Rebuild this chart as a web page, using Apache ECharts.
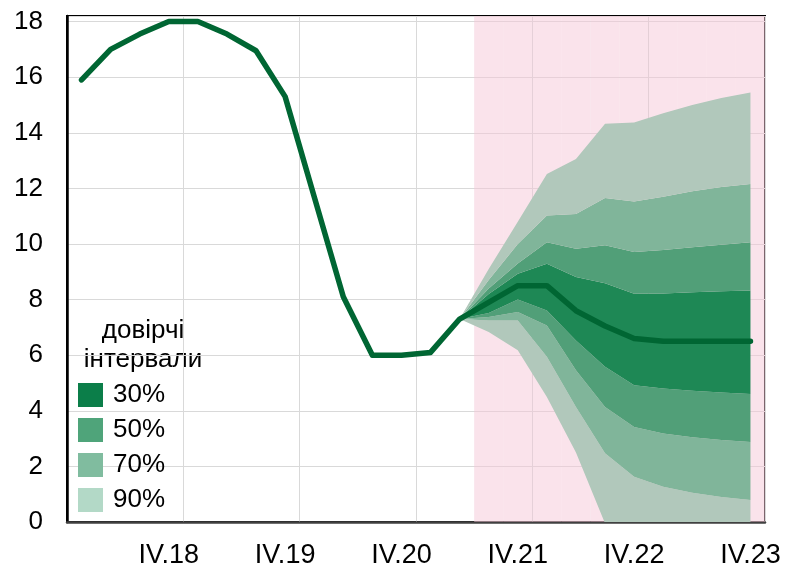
<!DOCTYPE html>
<html>
<head>
<meta charset="utf-8">
<script src="https://cdn.jsdelivr.net/npm/echarts@6/dist/echarts.min.js"></script>
<style>
  html, body { margin: 0; padding: 0; background: #fff; }
  #main { width: 787px; height: 570px; }
</style>
</head>
<body>
<div id="main"></div>
<script>
// квартали I.18 ... IV.23
const quarters = [
  'I.18', 'II.18', 'III.18', 'IV.18',
  'I.19', 'II.19', 'III.19', 'IV.19',
  'I.20', 'II.20', 'III.20', 'IV.20',
  'I.21', 'II.21', 'III.21', 'IV.21',
  'I.22', 'II.22', 'III.22', 'IV.22',
  'I.23', 'II.23', 'III.23', 'IV.23'
];

// фактичні дані (I.18 - II.21)
const actual = [15.9, 17.0, 17.55, 18.0, 18.0, 17.55, 16.95, 15.3, 11.7, 8.1, 6.0, 6.0, 6.1, 7.3];

// прогноз (II.21 - IV.23)
const forecastStart = 13;
const median = [7.3, 7.9, 8.5, 8.5, 7.6, 7.05, 6.6, 6.5, 6.5, 6.5, 6.5];
const hi30 = [7.3, 8.2, 8.93, 9.29, 8.81, 8.59, 8.21, 8.22, 8.26, 8.3, 8.33];
const hi50 = [7.3, 8.4, 9.3, 10.06, 9.83, 9.95, 9.71, 9.78, 9.88, 9.97, 10.06];
const hi70 = [7.3, 8.7, 10.0, 11.02, 11.08, 11.65, 11.53, 11.7, 11.9, 12.05, 12.16];
const hi90 = [7.3, 9.1, 10.8, 12.52, 13.06, 14.32, 14.37, 14.7, 15.0, 15.25, 15.45];
const lo30 = [7.3, 7.52, 8.0, 7.61, 6.53, 5.58, 4.92, 4.8, 4.72, 4.66, 4.6];
const lo50 = [7.3, 7.37, 7.55, 7.07, 5.46, 4.14, 3.42, 3.18, 3.05, 2.95, 2.88];
const lo70 = [7.3, 7.25, 7.25, 5.94, 4.14, 2.47, 1.63, 1.27, 1.05, 0.9, 0.79];
const lo90 = [7.3, 6.83, 6.18, 4.5, 2.5, -0.05, -1.0, -1.5, -1.8, -2.0, -2.2];

// прогнозний період (рожевий фон) з III.21
const shadeStart = 14;
const yMax = 18.2;

const bandColors = { '30%': '#1e8855', '50%': '#519f78', '70%': '#80b59a', '90%': '#b1c8bb' };
const legendColors = { '30%': '#0b7e49', '50%': '#4fa47a', '70%': '#80bc9f', '90%': '#b3d9c7' };

const font = "'Liberation Sans', Arial, sans-serif";

function pad(arr) {
  return Array(forecastStart).fill(null).concat(arr);
}
function diff(a, b) {
  return pad(a.map((v, i) => +(v - b[i]).toFixed(3)));
}

function band(name, data) {
  return {
    name: name,
    type: 'line',
    stack: 'fan',
    stackStrategy: 'all',
    data: data,
    symbol: 'none',
    silent: true,
    lineStyle: { width: 0, opacity: 0 },
    areaStyle: { color: bandColors[name], opacity: 1 }
  };
}

const mainLine = actual.concat(median.slice(1));
const shade = quarters.map((q, i) => (i >= shadeStart ? yMax : null));

let myChart = echarts.init(document.getElementById('main'));
let option = {
  animation: false,
  grid: {
    left: 67, right: 22, top: 16, bottom: 48,
    show: true, borderColor: '#000', borderWidth: 2
  },
  legend: {
    data: ['30%', '50%', '70%', '90%'].map(n => ({ name: n, itemStyle: { color: legendColors[n] } })),
    orient: 'vertical',
    left: 73,
    top: 377,
    icon: 'rect',
    itemWidth: 25,
    itemHeight: 24,
    itemGap: 9,
    selectedMode: false,
    textStyle: { fontSize: 26, color: '#000', fontFamily: font, padding: [0, 0, 0, 5] }
  },
  graphic: [{
    type: 'text',
    x: 143,
    y: 316,
    silent: true,
    style: {
      text: 'довірчі\nінтервали',
      fontSize: 26,
      fontFamily: font,
      fill: '#000',
      align: 'center',
      textAlign: 'center',
      verticalAlign: 'top',
      lineHeight: 29
    }
  }],
  xAxis: {
    type: 'category',
    data: quarters,
    boundaryGap: true,
    axisLine: { lineStyle: { color: '#404040', width: 2.5 } },
    axisTick: {
      interval: (i) => i % 4 === 0,
      length: 5,
      lineStyle: { color: '#d0d0d0' }
    },
    axisLabel: {
      interval: (i) => i % 4 === 3,
      fontSize: 27,
      fontFamily: font,
      color: '#000',
      margin: 20
    },
    splitLine: {
      show: true,
      interval: (i) => i % 4 === 0,
      lineStyle: { color: '#d9d9d9', width: 1 }
    }
  },
  yAxis: {
    type: 'value',
    min: 0,
    max: yMax,
    interval: 2,
    axisLine: { show: true, lineStyle: { color: '#000', width: 2.5 } },
    axisTick: { show: false },
    axisLabel: {
      fontSize: 26,
      fontFamily: font,
      color: '#000',
      margin: 24,
      formatter: (v) => (Number.isInteger(v) ? String(v) : '')
    },
    splitLine: { lineStyle: { color: '#d9d9d9', width: 1 } }
  },
  series: [
    {
      name: 'shade',
      type: 'bar',
      data: shade,
      barWidth: '100%',
      barCategoryGap: 0,
      silent: true,
      itemStyle: { color: 'rgba(246,200,216,0.5)' }
    },
    {
      name: 'base',
      type: 'line',
      stack: 'fan',
      stackStrategy: 'all',
      data: pad(lo90),
      symbol: 'none',
      silent: true,
      lineStyle: { width: 0, opacity: 0 }
    },
    band('90%', diff(lo70, lo90)),
    band('70%', diff(lo50, lo70)),
    band('50%', diff(lo30, lo50)),
    band('30%', diff(hi30, lo30)),
    band('50%', diff(hi50, hi30)),
    band('70%', diff(hi70, hi50)),
    band('90%', diff(hi90, hi70)),
    {
      name: 'main',
      type: 'line',
      data: mainLine,
      symbol: 'none',
      silent: true,
      z: 5,
      lineStyle: { color: '#006633', width: 5.5, cap: 'round', join: 'round' }
    }
  ]
};
myChart.setOption(option, true);
</script>
</body>
</html>
